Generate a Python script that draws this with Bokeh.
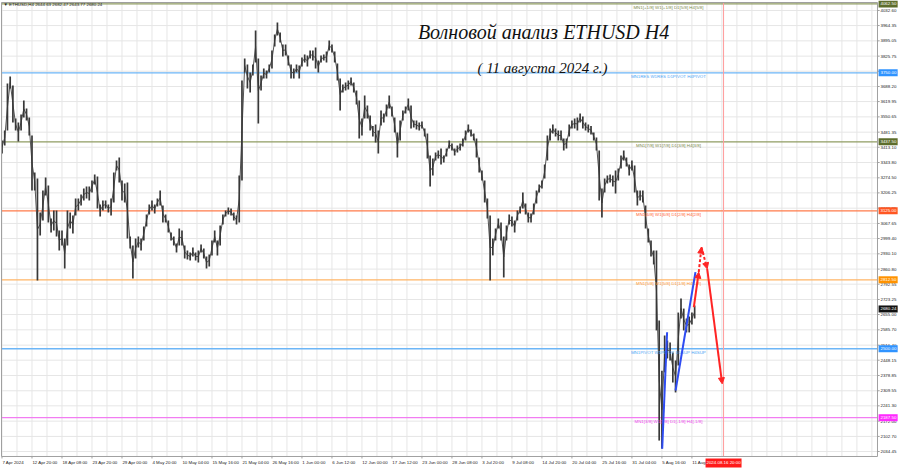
from bokeh.plotting import figure
from bokeh.models import Range1d, Arrow, NormalHead, ColumnDataSource
from bokeh.core.properties import value
from bokeh.embed import file_html
from bokeh.resources import INLINE

# ETHUSD, 12-hour bars (index 0 ~ 7 Apr 2024)
bar_high = [3444, 3489, 3702, 3734, 3693, 3543, 3525, 3561, 3625, 3589,
            3548, 3466, 3299, 3271, 3117, 3217, 3276, 3240, 3090, 3126,
            3126, 3036, 3036, 3000, 3126, 3117, 3104, 3181, 3181, 3199,
            3226, 3235, 3235, 3262, 3290, 3280, 3154, 3172, 3172, 3154,
            3181, 3299, 3353, 3367, 3262, 3249, 3253, 3009, 2968, 3000,
            3009, 3000, 3054, 3108, 3154, 3172, 3154, 3181, 3217, 3149,
            3108, 3081, 3027, 3009, 2977, 3045, 3036, 2968, 2945, 2936,
            2959, 2936, 2945, 2972, 2954, 2918, 2927, 2990, 3036, 2990,
            3058, 3108, 3126, 3140, 3135, 3117, 3104, 3285, 3715, 3815,
            3788, 3752, 3788, 3942, 3815, 3738, 3770, 3761, 3788, 3851,
            3924, 3978, 3933, 3879, 3879, 3829, 3788, 3770, 3788, 3783,
            3820, 3833, 3829, 3851, 3851, 3865, 3806, 3829, 3833, 3847,
            3897, 3879, 3847, 3793, 3725, 3697, 3706, 3715, 3729, 3706,
            3670, 3625, 3543, 3647, 3602, 3557, 3509, 3516, 3489, 3580,
            3566, 3607, 3647, 3598, 3548, 3480, 3534, 3580, 3598, 3634,
            3602, 3534, 3534, 3525, 3530, 3498, 3475, 3376, 3362, 3389,
            3398, 3407, 3376, 3407, 3444, 3430, 3407, 3421, 3430, 3453,
            3489, 3516, 3493, 3475, 3453, 3367, 3308, 3262, 3181, 3104,
            3000, 3045, 3090, 3072, 3009, 3058, 3108, 3099, 3081, 3126,
            3145, 3208, 3158, 3117, 3113, 3158, 3217, 3244, 3262, 3335,
            3466, 3498, 3516, 3498, 3489, 3489, 3453, 3453, 3516, 3534,
            3543, 3548, 3566, 3552, 3525, 3516, 3509, 3480, 3457, 3398,
            3226, 3271, 3285, 3290, 3285, 3308, 3317, 3376, 3398, 3367,
            3335, 3353, 3330, 3217, 3217, 3217, 3149, 3045, 2990, 2945,
            2945, 2628, 2400, 2560, 2537, 2528, 2483, 2447, 2664, 2728,
            2682, 2637, 2646, 2664, 2696]
bar_low = [3385, 3421, 3489, 3679, 3525, 3489, 3439, 3489, 3548, 3534,
           3466, 3217, 3217, 2809, 3013, 3081, 3194, 3072, 3027, 3036,
           3009, 2945, 2968, 2864, 2968, 3045, 3022, 3104, 3126, 3149,
           3172, 3181, 3172, 3208, 3244, 3135, 3099, 3126, 3135, 3117,
           3104, 3163, 3308, 3253, 3172, 3163, 3000, 2954, 2818, 2909,
           2959, 2945, 2990, 3054, 3108, 3126, 3113, 3145, 3149, 3072,
           3072, 3027, 2990, 2968, 2936, 2968, 2968, 2909, 2904, 2900,
           2918, 2900, 2891, 2936, 2909, 2864, 2873, 2923, 2981, 2923,
           2968, 3063, 3099, 3108, 3104, 3081, 3063, 3072, 3262, 3752,
           3679, 3661, 3738, 3797, 3521, 3670, 3725, 3725, 3752, 3770,
           3870, 3919, 3888, 3824, 3829, 3783, 3725, 3725, 3752, 3725,
           3779, 3797, 3779, 3815, 3806, 3770, 3752, 3797, 3806, 3797,
           3851, 3842, 3797, 3715, 3580, 3661, 3670, 3675, 3693, 3661,
           3607, 3453, 3466, 3543, 3543, 3489, 3462, 3435, 3385, 3512,
           3525, 3552, 3589, 3552, 3480, 3367, 3444, 3534, 3566, 3580,
           3498, 3503, 3493, 3489, 3498, 3462, 3362, 3235, 3285, 3353,
           3362, 3335, 3344, 3371, 3407, 3398, 3376, 3389, 3398, 3416,
           3444, 3480, 3462, 3444, 3367, 3299, 3262, 3163, 3090, 2809,
           2923, 2990, 3045, 2990, 2823, 2990, 3063, 3054, 3027, 3081,
           3113, 3135, 3108, 3072, 3072, 3108, 3158, 3208, 3226, 3271,
           3353, 3444, 3475, 3462, 3444, 3444, 3398, 3407, 3462, 3498,
           3498, 3489, 3525, 3498, 3489, 3480, 3471, 3444, 3398, 3172,
           3095, 3208, 3249, 3253, 3235, 3203, 3262, 3317, 3353, 3326,
           3285, 3308, 3208, 3149, 3172, 3163, 3045, 2981, 2918, 2882,
           2583, 2084, 2048, 2393, 2456, 2447, 2347, 2302, 2424, 2637,
           2583, 2574, 2574, 2610, 2637]

time_labels = ["7 Apr 2024", "12 Apr 20:00", "18 Apr 08:00", "23 Apr 20:00",
               "29 Apr 00:00", "4 May 20:00", "10 May 04:00", "15 May 16:00",
               "21 May 04:00", "26 May 16:00", "1 Jun 00:00", "6 Jun 12:00",
               "12 Jun 00:00", "17 Jun 12:00", "23 Jun 00:00", "28 Jun 08:00",
               "3 Jul 20:00", "9 Jul 08:00", "14 Jul 20:00", "20 Jul 04:00",
               "25 Jul 16:00", "31 Jul 04:00", "5 Aug 16:00", "11 Aug 04:00"]
bars_per_label = 11

price_ticks = [4032.60, 3964.35, 3895.05, 3825.75, 3757.50, 3688.20, 3619.95,
               3550.65, 3481.35, 3413.10, 3343.80, 3274.50, 3206.25, 3136.95,
               3067.65, 2999.40, 2930.10, 2860.80, 2792.55, 2723.25, 2655.00,
               2585.70, 2516.40, 2448.15, 2378.85, 2309.55, 2241.30, 2172.00,
               2102.70, 2034.45]

levels = [4062.50, 3750.00, 3437.50, 3125.00, 2812.50, 2500.00, 2187.50]
level_texts = ["MN1[+1/8] W1[+1/8] D1[5/8] H4[5/8]",
               "MN1RES W1RES D1PIVOT H4PIVOT",
               "MN1[7/8] W1[7/8] D1[3/8] H4[3/8]",
               "MN1[6/8] W1[6/8] D1[2/8] H4[2/8]",
               "MN1[5/8] W1[5/8] D1[1/8] H4[1/8]",
               "MN1PIVOT W1PIVOT D1SUP H4SUP",
               "MN1[3/8] W1[3/8] D1[-1/8] H4[-1/8]"]
level_line_colors = ["#8f9c62", "#6db6f7", "#8f9c62", "#ff7b4a", "#ffb566", "#6db6f7", "#f27cf2"]
level_text_colors = ["#7c8a4c", "#4da6f5", "#7c8a4c", "#ff6633", "#ff9a33", "#4da6f5", "#ee44ee"]
level_box_colors = ["#5d6d2c", "#2f93ff", "#5d6d2c", "#ff5622", "#ff9200", "#2f93ff", "#ff2bff"]

last_price = 2680.24
header_text = "\u25bc ETHUSD,H4  2644.63 2682.47 2643.77 2680.24"

wave1_x = [242.1, 243.9]
wave1_y = [2047, 2575]
wave2_x = [247.0, 254.3]
wave2_y = [2311, 2847]
forecast_x = [253.7, 255.5, 256.5, 258.6, 264.1]
forecast_y = [2688, 2847, 2960, 2862, 2341]
forecast_dashed = [False, True, True, False]
future_bar = 264.6
future_label = "2024.08.16 20:00"

title = "Волновой анализ ETHUSD H4"
subtitle = "( 11 августа 2024 г.)"

# ---- geometry of the terminal window (bar index / price units) ----
X0, X1 = -0.55, 329.49          # whole canvas
Y0, Y1 = 1957.4, 4077.9
CL, CR = -0.18, 321.05          # chart area
CB, CT = 2011.8, 4068.8
PX = 2.727                      # pixels per bar
PY = 4.531                      # price per pixel

SMALL = "4.4px"
FONT = value("Liberation Sans")
GRID = "#e6e6e6"
BORDER = "#a0a0a0"

p = figure(width=900, height=468, x_range=Range1d(X0, X1), y_range=Range1d(Y0, Y1),
           x_axis_location=None, y_axis_location=None,
           output_backend="svg", toolbar_location=None,
           min_border_left=0, min_border_top=0, min_border_bottom=0, min_border_right=0)
p.background_fill_color = "white"
p.border_fill_color = "white"
p.outline_line_color = None
p.xgrid.visible = False
p.ygrid.visible = False

# grid
n_labels = len(time_labels)
label_pos = [bars_per_label * k for k in range(n_labels)]
vgrid = [bars_per_label * k / 2 for k in range(59)]
p.segment(x0=vgrid, y0=[CB] * len(vgrid), x1=vgrid, y1=[CT] * len(vgrid),
          line_color=GRID, line_width=1)
p.segment(x0=[CL] * len(price_ticks), y0=price_ticks, x1=[CR] * len(price_ticks),
          y1=price_ticks, line_color=GRID, line_width=1)

# murrey levels (lines under the price)
n_lv = len(levels)
p.segment(x0=[CL] * n_lv, y0=levels, x1=[CR] * n_lv, y1=levels,
          line_color=level_line_colors, line_width=1.3)

# price bars
idx = list(range(len(bar_high)))
mid = [(h + l) / 2 for h, l in zip(bar_high, bar_low)]
src = ColumnDataSource(dict(x=idx, hi=bar_high, lo=bar_low, mid=mid))
p.line(x="x", y="mid", source=src, line_color="#555555", line_width=1)
p.segment(x0="x", y0="lo", x1="x", y1="hi", source=src, line_color="#383838", line_width=1.7)

p.text(x=[244.4] * n_lv, y=[lv - 4 for lv in levels], text=level_texts,
       text_align="center", text_baseline="top", text_font_size=SMALL,
       text_font=FONT, text_color=level_text_colors)

# future time marker
p.segment(x0=[future_bar], y0=[CB], x1=[future_bar], y1=[CT], line_color="#ff9c9c", line_width=1)

# chart border
p.quad(left=[CL], right=[CR], bottom=[CB], top=[CT], fill_alpha=0,
       line_color=BORDER, line_width=1)

# right price scale
p.segment(x0=[CR] * len(price_ticks), y0=price_ticks, x1=[CR + 0.8] * len(price_ticks),
          y1=price_ticks, line_color=BORDER)
p.text(x=[CR + 1.1] * len(price_ticks), y=price_ticks,
       text=[f"{t:.2f}" for t in price_ticks], text_align="left", text_baseline="middle",
       text_font_size=SMALL, text_font=FONT, text_color="#222222")
box_prices = levels + [last_price]
box_colors = level_box_colors + ["#111111"]
p.rect(x=[CR + 3.9] * len(box_prices), y=box_prices, width=7.0, height=7 * PY,
       fill_color=box_colors, line_color=None)
p.text(x=[CR + 1.1] * len(box_prices), y=box_prices,
       text=[f"{b:.2f}" for b in box_prices], text_align="left", text_baseline="middle",
       text_font_size=SMALL, text_font=FONT, text_color="white")

# bottom time scale
ty = CB - 6.5 * PY
p.segment(x0=label_pos, y0=[CB] * n_labels, x1=label_pos, y1=[CB - 2 * PY] * n_labels,
          line_color=BORDER)
p.text(x=[lp + 0.15 for lp in label_pos], y=[ty] * n_labels, text=time_labels,
       text_align="left", text_baseline="middle", text_font_size=SMALL, text_font=FONT,
       text_color="#222222")
p.rect(x=[future_bar], y=[ty], width=13.2, height=9 * PY, fill_color="#ff1a1a", line_color=None)
p.text(x=[future_bar], y=[ty], text=[future_label], text_align="center",
       text_baseline="middle", text_font_size=SMALL, text_font=FONT, text_color="white")

# header
p.text(x=[0.55], y=[4059.8], text=[header_text], text_align="left", text_baseline="middle",
       text_font_size=SMALL, text_font=FONT, text_color="#222222")

# waves
p.line(wave1_x, wave1_y, line_color="#2e4cf2", line_width=2)
p.line(wave2_x, wave2_y, line_color="#2e4cf2", line_width=2)
for k in range(len(forecast_x) - 1):
    p.add_layout(Arrow(end=NormalHead(size=6, fill_color="#ff2424", line_color="#ff2424"),
                       x_start=forecast_x[k], y_start=forecast_y[k],
                       x_end=forecast_x[k + 1], y_end=forecast_y[k + 1],
                       line_color="#ff2424", line_width=2,
                       line_dash="3 2" if forecast_dashed[k] else "solid"))

# titles
p.text(x=[198.6], y=[3937.4], text=[title], text_align="center", text_baseline="middle",
       text_font_size="20px", text_font=value("Liberation Serif"), text_font_style="italic",
       text_color="#111111")
p.text(x=[198.2], y=[3774.3], text=[subtitle], text_align="center", text_baseline="middle",
       text_font_size="15px", text_font=value("Liberation Serif"), text_font_style="italic",
       text_color="#111111")

open("out.html", "w").write(file_html(p, INLINE))
